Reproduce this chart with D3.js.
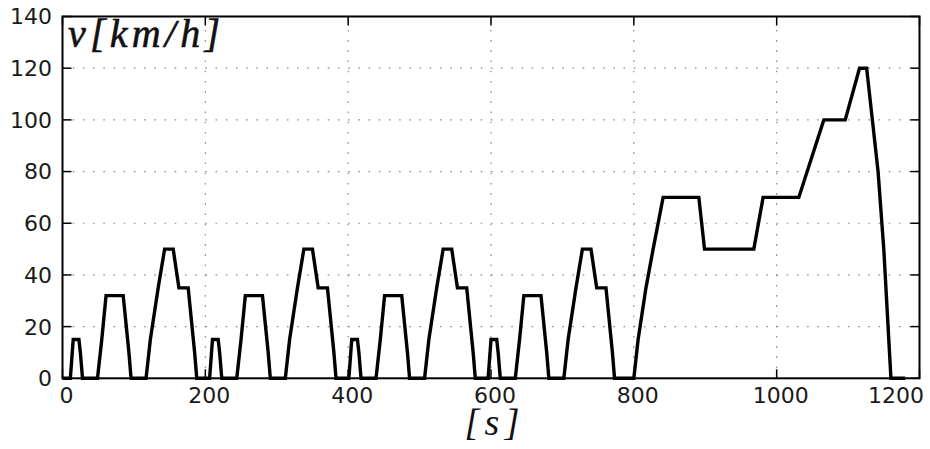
<!DOCTYPE html>
<html>
<head>
<meta charset="utf-8">
<script src="https://cdn.jsdelivr.net/npm/d3@7"></script>
<style>
  html, body { margin: 0; padding: 0; background: #fff; }
  svg { display: block; }
  .tick-label { font-family: "DejaVu Sans", sans-serif; font-size: 22px; fill: #1a1a1a; }
</style>
</head>
<body>
<svg id="chart" width="930" height="449"></svg>
<script>
// NEDC speed profile: urban cycle (ECE-15, run four times) followed by the extra-urban cycle.
// Breakpoints within one urban cycle [s] and speeds [km/h]
const eceTime  = [0, 11, 15, 23, 25, 28, 49, 55, 61, 85, 93, 96, 117, 123, 134, 143, 155, 163, 176, 185, 188, 195];
const eceSpeed = [0, 0, 15, 15, 10, 0, 0, 15, 32, 32, 10, 0, 0, 15, 35, 50, 50, 35, 35, 10, 0, 0];
// Breakpoints of the extra-urban cycle, relative to its start
const eudcTime  = [0, 20, 26, 37, 47, 61, 111, 119, 188, 201, 251, 286, 316, 336, 346, 362, 370, 380, 400];
const eudcSpeed = [0, 0, 15, 35, 50, 70, 70, 50, 50, 70, 70, 100, 100, 120, 120, 80, 50, 0, 0];
const eceRepeats = 4;
const eceLength = 195;

const xTicks = [0, 200, 400, 600, 800, 1000, 1200];
const yTicks = [0, 20, 40, 60, 80, 100, 120, 140];

// Assemble the full profile
const profile = [];
for (let k = 0; k < eceRepeats; k++) {
  eceTime.forEach((t, i) => {
    if (k > 0 && i === 0) return;
    profile.push({ t: k * eceLength + t, v: eceSpeed[i] });
  });
}
const eudcStart = eceRepeats * eceLength;
eudcTime.forEach((t, i) => {
  if (i === 0) return;
  profile.push({ t: eudcStart + t, v: eudcSpeed[i] });
});

const svg = d3.select("#chart");
const plotLeft = 62.5, plotRight = 919.5, plotTop = 16.5, plotBottom = 378.3;

const x = d3.scaleLinear().domain([0, 1200]).range([plotLeft, plotRight]);
const y = d3.scaleLinear().domain([0, 140]).range([plotBottom, plotTop]);

// Dotted grid
const grid = svg.append("g").attr("stroke", "#8a8a8a").attr("stroke-width", 1.2)
  .attr("stroke-dasharray", "1.6,8.6").attr("fill", "none");
grid.selectAll("line.h").data(yTicks.slice(1, -1)).join("line")
  .attr("class", "h")
  .attr("x1", plotLeft).attr("x2", plotRight)
  .attr("y1", d => y(d)).attr("y2", d => y(d));
grid.selectAll("line.v").data(xTicks.slice(1, -1)).join("line")
  .attr("class", "v")
  .attr("y1", plotBottom).attr("y2", plotTop)
  .attr("x1", d => x(d)).attr("x2", d => x(d));

// Speed trace
svg.append("path")
  .datum(profile)
  .attr("fill", "none")
  .attr("stroke", "#000")
  .attr("stroke-width", 3.4)
  .attr("stroke-linejoin", "miter")
  .attr("d", d3.line().x(d => x(d.t)).y(d => y(d.v)));

// Frame
svg.append("rect")
  .attr("x", plotLeft).attr("y", plotTop)
  .attr("width", plotRight - plotLeft).attr("height", plotBottom - plotTop)
  .attr("fill", "none").attr("stroke", "#000").attr("stroke-width", 2);

// Inward ticks on all four sides
const tickLen = 9;
const ticks = svg.append("g").attr("stroke", "#000").attr("stroke-width", 1.5);
yTicks.forEach(v => {
  ticks.append("line").attr("x1", plotLeft).attr("x2", plotLeft + tickLen).attr("y1", y(v)).attr("y2", y(v));
  ticks.append("line").attr("x1", plotRight).attr("x2", plotRight - tickLen).attr("y1", y(v)).attr("y2", y(v));
});
xTicks.forEach(v => {
  ticks.append("line").attr("x1", x(v)).attr("x2", x(v)).attr("y1", plotBottom).attr("y2", plotBottom - tickLen);
  ticks.append("line").attr("x1", x(v)).attr("x2", x(v)).attr("y1", plotTop).attr("y2", plotTop + tickLen);
});

// Tick labels
svg.append("g").selectAll("text").data(yTicks).join("text")
  .attr("class", "tick-label")
  .attr("x", 52)
  .attr("y", d => y(d))
  .attr("dy", "0.36em")
  .attr("text-anchor", "end")
  .text(d => d);

svg.append("g").selectAll("text").data(xTicks).join("text")
  .attr("class", "tick-label")
  .attr("x", (d, i) => i === xTicks.length - 1 ? 924 : x(d) + 4)
  .attr("y", 403)
  .attr("text-anchor", (d, i) => i === xTicks.length - 1 ? "end" : "middle")
  .text(d => d);

// Axis titles
svg.append("text")
  .attr("x", 68).attr("y", 47)
  .attr("font-family", "'Liberation Serif', 'DejaVu Serif', serif")
  .attr("font-style", "italic")
  .attr("font-size", 40)
  .attr("fill", "#111")
  .attr("stroke", "#111")
  .attr("stroke-width", 0.6)
  .attr("textLength", 152)
  .attr("lengthAdjust", "spacing")
  .text("v[km/h]");

svg.append("text")
  .attr("x", 492).attr("y", 435)
  .attr("text-anchor", "middle")
  .attr("font-family", "'Liberation Serif', 'DejaVu Serif', serif")
  .attr("font-style", "italic")
  .attr("font-size", 38)
  .attr("fill", "#111")
  .attr("textLength", 55)
  .attr("lengthAdjust", "spacing")
  .text("[s]");
</script>
</body>
</html>
